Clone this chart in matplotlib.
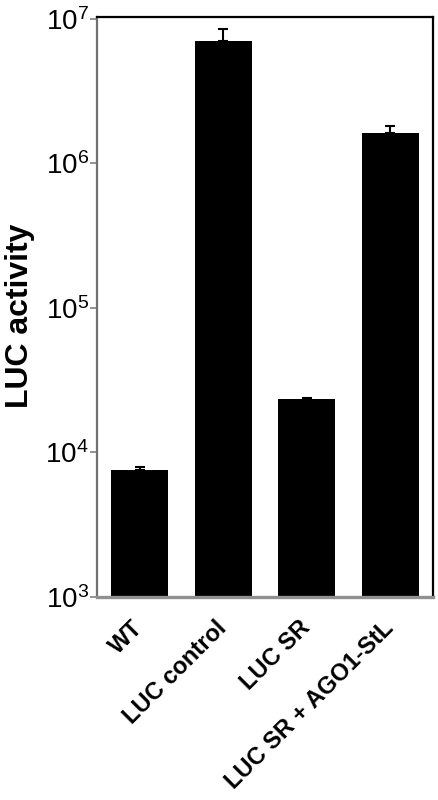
import numpy as np
import matplotlib.pyplot as plt
from matplotlib.transforms import ScaledTranslation

plt.rcParams['font.family'] = ['Liberation Sans', 'DejaVu Sans']
plt.rcParams['mathtext.fontset'] = 'custom'
plt.rcParams['mathtext.rm'] = 'Liberation Sans'

groups = ['WT', 'LUC control', 'LUC SR', 'LUC SR + AGO1-StL']
activity = [7.6e3, 7.06e6, 2.33e4, 1.62e6]
err_up = [2.7e2, 1.45e6, 5.0e2, 1.9e5]
yticks = [1e3, 1e4, 1e5, 1e6, 1e7]
ytick_labels = [r'$\mathdefault{10^{3}}$', r'$\mathdefault{10^{4}}$', r'$\mathdefault{10^{5}}$',
                r'$\mathdefault{10^{6}}$', r'$\mathdefault{10^{7}}$']

fig = plt.figure(figsize=(4.39, 8.0), dpi=100)
ax = fig.add_axes([0.221, 0.254, 0.765, 0.725])

x = np.arange(len(groups))
ax.bar(x, activity, width=0.68, color='black', bottom=1)
ax.errorbar(x, activity, yerr=[np.zeros(len(x)), err_up], fmt='none',
            ecolor='black', elinewidth=1.5, capsize=3.8, capthick=1.5)

ax.set_yscale('log')
ax.set_ylim(1e3, 10 ** 7.015)
ax.set_xlim(-0.51, 3.51)
ax.minorticks_off()
ax.set_yticks(yticks)
ax.set_yticklabels(ytick_labels, fontsize=20)
ax.tick_params(axis='y', length=5, width=1.2, color='#808080', pad=1)

ax.set_xticks(x)
ax.set_xticklabels(groups, rotation=45, ha='right', va='center',
                   rotation_mode='anchor', fontsize=17, fontweight='bold')
ax.tick_params(axis='x', length=0, pad=20)
offset = ScaledTranslation(0 / 100, 0, fig.dpi_scale_trans)
for lab in ax.get_xticklabels():
    lab.set_transform(lab.get_transform() + offset)

ax.set_ylabel('LUC activity', fontsize=23, fontweight='bold')
ax.yaxis.set_label_coords(-0.186, 0.484)

ax.spines['top'].set_color('black')
ax.spines['top'].set_linewidth(1.6)
ax.spines['right'].set_color('black')
ax.spines['right'].set_linewidth(1.6)
ax.spines['left'].set_color('#707070')
ax.spines['left'].set_linewidth(1.6)
ax.spines['bottom'].set_color('#909090')
ax.spines['bottom'].set_linewidth(2.4)

fig.savefig('out.png', dpi=100)
